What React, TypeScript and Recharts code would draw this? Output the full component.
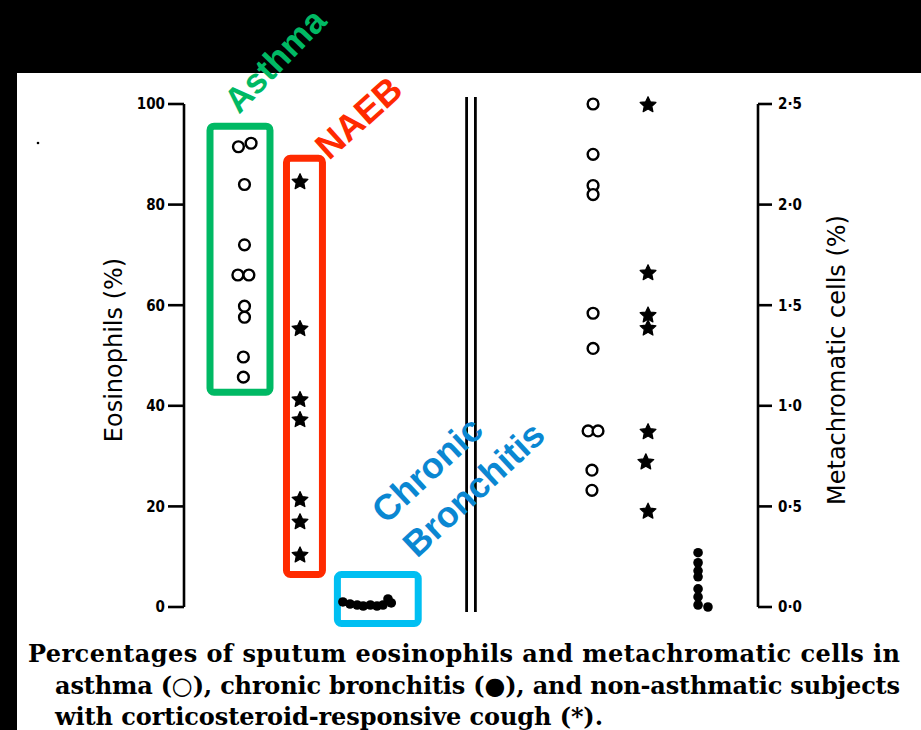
import React from 'react';
import { ScatterChart, Scatter, XAxis, YAxis, ReferenceArea, ReferenceLine } from 'recharts';

// Horizontal slot (column) of each group on the hidden x axis
const slotAsthma = 1.1;
const slotNaeb = 2.11;
const slotBronchitis = 3.35;
const slotAsthmaMeta = 7.44;
const slotNaebMeta = 8.44;
const slotBronchitisMeta = 9.35;

// Eosinophils (%) – left panel
const asthmaEos = [91.5, 92.2, 84, 72, 66, 66, 59.8, 57.6, 49.7, 45.7];
const asthmaEosJitter = [-0.11, 0.12, 0, 0, -0.12, 0.08, 0, 0, -0.02, -0.02];
const naebEos = [84.5, 55.3, 41.2, 37.2, 21.3, 16.9, 10.3];
const naebEosJitter = [0, 0, 0, 0, 0, 0, 0];
const bronchitisEos = [1.0, 0.6, 0.4, 0.2, 0.4, 0.2, 0.4, 1.6, 0.8];
const bronchitisEosJitter = [-0.46, -0.33, -0.2, -0.09, 0.04, 0.16, 0.27, 0.36, 0.42];

// Metachromatic cells (%) – right panel
const asthmaMeta = [2.5, 2.25, 2.095, 2.05, 1.46, 1.285, 0.875, 0.875, 0.68, 0.58];
const asthmaMetaJitter = [0, 0, 0, 0, 0, 0, -0.09, 0.09, -0.02, -0.02];
const naebMeta = [2.495, 1.66, 1.45, 1.385, 0.87, 0.72, 0.475];
const naebMetaJitter = [0, 0, 0, 0, 0, -0.04, 0];
const bronchitisMeta = [0.27, 0.22, 0.18, 0.15, 0.09, 0.05, 0.01, 0.0];
const bronchitisMetaJitter = [0, 0, 0, 0, 0, 0, 0, 0.18];

const eosTicks = [0, 20, 40, 60, 80, 100];
const metaTicks = [0, 0.5, 1.0, 1.5, 2.0, 2.5];

const build = (slot: number, vals: number[], jit: number[]) =>
  vals.map((v, i) => ({ x: slot + jit[i], y: v }));

const OpenCircle = (p: any) => (
  <circle cx={p.cx} cy={p.cy} r={5.4} fill="#fff" stroke="#000" strokeWidth={2.4} />
);
const FilledDot = (p: any) => <circle cx={p.cx} cy={p.cy} r={4.8} fill="#000" />;
const Star = (p: any) => {
  const R = 8.3;
  const r = 4.0;
  const pts: string[] = [];
  for (let i = 0; i < 10; i++) {
    const a = -Math.PI / 2 + (i * Math.PI) / 5;
    const rad = i % 2 === 0 ? R : r;
    pts.push(`${p.cx + rad * Math.cos(a)},${p.cy + rad * Math.sin(a)}`);
  }
  return <polygon points={pts.join(' ')} fill="#000" stroke="#000" strokeWidth={1.2} strokeLinejoin="round" />;
};

const tickStyle = { fontSize: 15, fontFamily: 'DejaVu Sans Condensed, DejaVu Sans', fontWeight: 'bold', fill: '#000' } as any;
const fmtMeta = (v: number) => v.toFixed(1).replace('.', '\u00b7');

export default function App() {
  const green = '#00b964';
  const red = '#ff2a00';
  const cyan = '#00bff2';
  const blueText = '#0a87d2';
  return (
    <div style={{ position: 'absolute', left: 0, top: 0, width: 921, height: 730, background: '#000', overflow: 'hidden' }}>
      <div style={{ position: 'absolute', left: 17, top: 73, width: 904, height: 657, background: '#fff' }} />
      <div style={{ position: 'absolute', left: 0, top: 0 }}>
        <ScatterChart width={921} height={730} margin={{ top: 104, right: 103, bottom: 123, left: 124 }}>
          <XAxis type="number" dataKey="x" domain={[0, 10.44]} hide />
          <YAxis
            yAxisId="eos"
            type="number"
            dataKey="y"
            domain={[0, 100]}
            ticks={eosTicks}
            width={60}
            orientation="left"
            tickSize={16}
            tickMargin={3}
            axisLine={{ stroke: '#000', strokeWidth: 2.6 }}
            tickLine={{ stroke: '#000', strokeWidth: 2.6 }}
            tick={tickStyle}
          />
          <YAxis
            yAxisId="meta"
            type="number"
            dataKey="y"
            domain={[0, 2.5]}
            ticks={metaTicks}
            width={60}
            orientation="right"
            tickSize={14}
            tickMargin={6}
            tickFormatter={fmtMeta}
            axisLine={{ stroke: '#000', strokeWidth: 2.6 }}
            tickLine={{ stroke: '#000', strokeWidth: 2.6 }}
            tick={tickStyle}
          />
          <ReferenceLine
            yAxisId="eos"
            segment={[{ x: 5.14, y: 101.4 }, { x: 5.14, y: -1.0 }]}
            stroke="#000"
            strokeWidth={2.8}
            ifOverflow="visible"
          />
          <ReferenceLine
            yAxisId="eos"
            segment={[{ x: 5.3, y: 101.4 }, { x: 5.3, y: -1.0 }]}
            stroke="#000"
            strokeWidth={2.8}
            ifOverflow="visible"
          />
          <Scatter yAxisId="eos" data={build(slotAsthma, asthmaEos, asthmaEosJitter)} shape={OpenCircle} isAnimationActive={false} />
          <Scatter yAxisId="eos" data={build(slotNaeb, naebEos, naebEosJitter)} shape={Star} isAnimationActive={false} />
          <Scatter yAxisId="eos" data={build(slotBronchitis, bronchitisEos, bronchitisEosJitter)} shape={FilledDot} isAnimationActive={false} />
          <Scatter yAxisId="meta" data={build(slotAsthmaMeta, asthmaMeta, asthmaMetaJitter)} shape={OpenCircle} isAnimationActive={false} />
          <Scatter yAxisId="meta" data={build(slotNaebMeta, naebMeta, naebMetaJitter)} shape={Star} isAnimationActive={false} />
          <Scatter yAxisId="meta" data={build(slotBronchitisMeta, bronchitisMeta, bronchitisMetaJitter)} shape={FilledDot} isAnimationActive={false} />
          <ReferenceArea yAxisId="eos" x1={0.473} x2={1.564} y1={42.7} y2={95.6} fill="none" stroke={green} strokeWidth={7} radius={4} ifOverflow="visible" />
          <ReferenceArea yAxisId="eos" x1={1.864} x2={2.518} y1={6.46} y2={89.2} fill="none" stroke={red} strokeWidth={7} radius={4} ifOverflow="visible" />
          <ReferenceArea yAxisId="eos" x1={2.79} x2={4.26} y1={-3.28} y2={6.46} fill="none" stroke={cyan} strokeWidth={7} radius={4} ifOverflow="visible" />
        </ScatterChart>
      </div>
      <svg width={921} height={730} style={{ position: 'absolute', left: 0, top: 0, pointerEvents: 'none' }}>
        <circle cx={38} cy={143} r={1.3} fill="#000" />
        <text x={122} y={350} transform="rotate(-90 122 350)" textAnchor="middle" fontFamily="DejaVu Sans" fontSize={24} fill="#000">
          Eosinophils (%)
        </text>
        <text x={845} y={360} transform="rotate(-90 845 360)" textAnchor="middle" fontFamily="DejaVu Sans" fontSize={24} fill="#000">
          Metachromatic cells (%)
        </text>
        <g fontFamily="Liberation Sans, Arial, sans-serif" fontWeight="bold">
          <text x={239} y={115} transform="rotate(-46 239 115)" fontSize={35} fill={green}>Asthma</text>
          <text x={329} y={161} transform="rotate(-42 329 161)" fontSize={36} fill={red}>NAEB</text>
          <text x={386} y={525} transform="rotate(-43 386 525)" fontSize={36} fill={blueText}>Chronic</text>
          <text x={417} y={559} transform="rotate(-43 417 559)" fontSize={36} fill={blueText}>Bronchitis</text>
        </g>
        <g fontFamily="DejaVu Serif" fontWeight="bold" fontSize={24} fill="#000">
          <text x={28} y={662} textLength={872} lengthAdjust="spacing">Percentages of sputum eosinophils and metachromatic cells in</text>
          <text x={55} y={694} textLength={845} lengthAdjust="spacing">asthma (○), chronic bronchitis (●), and non-asthmatic subjects</text>
          <text x={55} y={725} textLength={548} lengthAdjust="spacing">with corticosteroid-responsive cough (*).</text>
        </g>
      </svg>
    </div>
  );
}
